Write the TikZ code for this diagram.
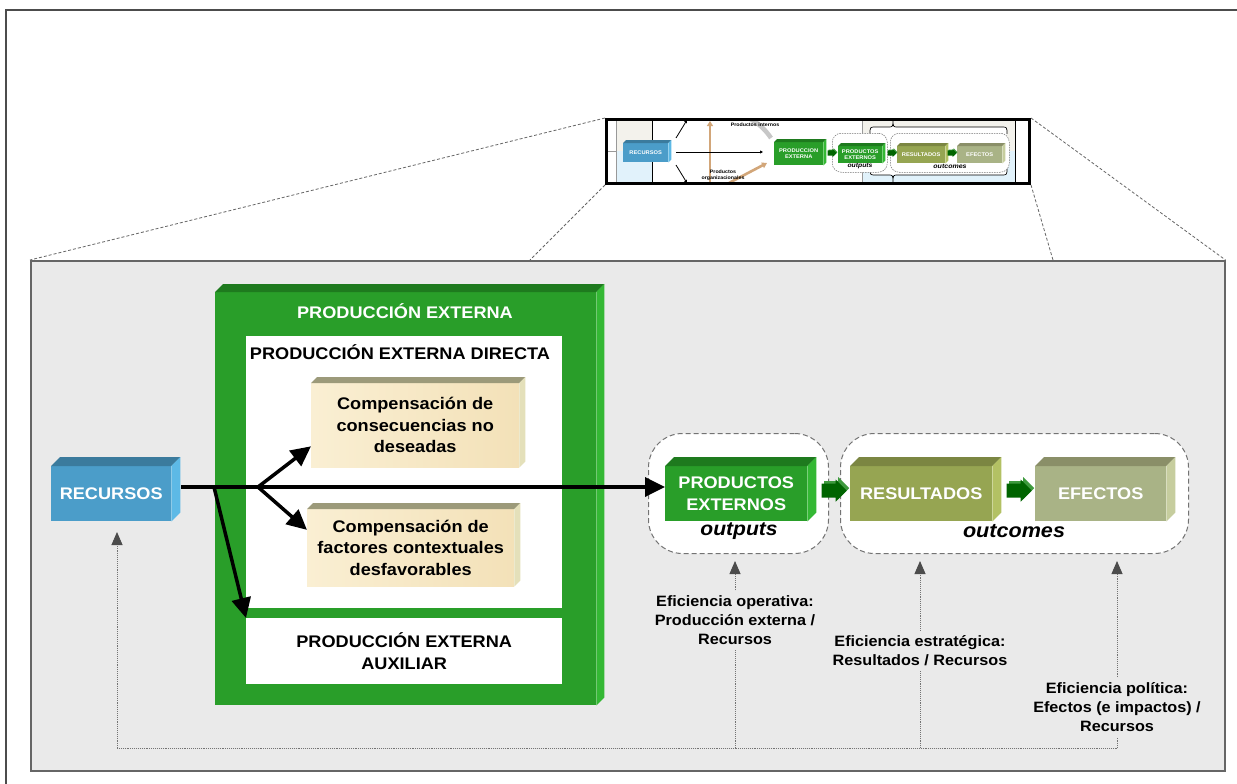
\documentclass[tikz,border=0pt]{standalone}
\usepackage{fontspec}
\setmainfont{Liberation Sans}[FakeStretch=1.08]
\usetikzlibrary{calc,arrows.meta}

\definecolor{panelgray}{HTML}{EAEAEA}
\definecolor{gfront}{HTML}{299E29}
\definecolor{gtop}{HTML}{1E7A1E}
\definecolor{gside}{HTML}{34B834}
\definecolor{bfront}{HTML}{4B9DC9}
\definecolor{btop}{HTML}{3B7B9D}
\definecolor{bside}{HTML}{5DB9E6}
\definecolor{rfront}{HTML}{96A552}
\definecolor{rtop}{HTML}{7B8642}
\definecolor{rside}{HTML}{B3C164}
\definecolor{efront}{HTML}{A9B386}
\definecolor{etop}{HTML}{8A8F68}
\definecolor{eside}{HTML}{C6CD9E}
\definecolor{cfronta}{HTML}{FAEFD3}
\definecolor{cfrontb}{HTML}{F3E1B8}
\definecolor{ctop}{HTML}{9C9A7A}
\definecolor{cside}{HTML}{E4E0BA}
\definecolor{darrow}{HTML}{006400}
\definecolor{larrow}{HTML}{3E9A3E}
\definecolor{tanarrow}{HTML}{D2A679}
\definecolor{mbeige}{HTML}{F3F2EC}
\definecolor{mblue}{HTML}{E1F2FB}

\newcommand{\fs}[2]{\fontsize{#1}{#2}\selectfont}
% top and right face of a box node: node, depth, top colour, side colour
\newcommand{\faces}[4]{%
  \fill[#3] (#1.north west) -- ++(#2,-#2) -- ([shift={(#2,-#2)}]#1.north east) -- (#1.north east) -- cycle;
  \fill[#4] (#1.north east) -- ([shift={(#2,-#2)}]#1.north east) -- ([shift={(#2,-#2)}]#1.south east) -- (#1.south east) -- cycle;}

\begin{document}
\begin{tikzpicture}[x=1pt,y=-1pt,
  block/.style={inner sep=0pt,anchor=north west,align=center,font=\bfseries\fs{16.8}{21.5}},
  mini/.style={inner sep=0pt,anchor=north west,align=center,text=white,font=\bfseries\fs{5.3}{6}},
  bigarrow/.style={line width=3.5pt,-{Triangle[length=20pt,width=19pt]}},
  thinarrow/.style={line width=0.8pt,-{Triangle[length=3pt,width=3pt]}},
  tanline/.style={tanarrow,line width=2.6pt,-{Triangle[length=5pt,width=6pt]}},
  groupbox/.style={draw=black!55,dash pattern=on 5pt off 3pt,line width=1pt,fill=white,rounded corners=34pt,anchor=north west,inner sep=0pt},
  dotline/.style={draw=black!55,densely dotted,line width=0.9pt},
  dotarrow/.style={dotline,-{Triangle[length=13pt,width=11pt,color=black!70]}},
  efflabel/.style={align=center,inner ysep=5pt,font=\bfseries\fs{15}{19}},
  zoomline/.style={draw=black!60,dash pattern=on 3pt off 2pt,line width=0.8pt},
  blockarr/.pic={
    \fill[larrow] (-9.5,-9.5) -- (4.5,-9.5) -- (4.5,-13.5) -- (15.5,-2.5) -- (4.5,8.5) -- (4.5,4.5) -- (-9.5,4.5) -- cycle;
    \fill[darrow] (-12,-7) -- (2,-7) -- (2,-11) -- (13,0) -- (2,11) -- (2,7) -- (-12,7) -- cycle;}
]
\useasboundingbox (0,0) rectangle (1237,784);
\fill[white] (0,0) rectangle (1237,784);
\draw[black!70,line width=1.5pt] (6,784) -- (6,10) -- (1237,10); %outer frame

%%%%%%%%%%%%%%%%%%%%%%%%%%%%%%%%%%%%%%%% thumbnail of the whole scheme
\begin{scope}
\clip (605,118) rectangle (1028,182);
\fill[mbeige] (616,118) rectangle (652,151);
\fill[mblue] (616,151) rectangle (652,182);
\fill[mbeige] (862,118) rectangle (1015,151);
\fill[mblue] (862,151) rectangle (1015,182);
\draw[black!40,line width=0.6pt] (605,151) -- (616,151) (616,118) -- (616,182) (862,118) -- (862,182);
\draw[line width=0.6pt] (652,118) -- (652,182) (1015,118) -- (1015,182);
\fill[white] (870,127) rectangle (1007,175);
\draw[line width=0.7pt] (870,134) .. controls (870,127) .. (876,127) -- (888,127) .. controls (893,127) .. (893,119)
  .. controls (893,127) .. (898,127) -- (1001,127) .. controls (1007,127) .. (1007,134); %top brace
\draw[line width=0.7pt] (870,168) .. controls (870,175) .. (876,175) -- (888,175) .. controls (893,175) .. (893,183)
  .. controls (893,175) .. (898,175) -- (1001,175) .. controls (1007,175) .. (1007,168); %bottom brace

\draw[black!22,line width=4.5pt] (688,119) .. controls (720,106) and (752,110) .. (771,138); %internal products
\draw[tanline] (710,183) -- (710,121);
\draw[tanline] (729,183) -- (767,163);

\node[mini,fill=bfront,minimum width=45,minimum height=19] (mrec) at (623,143) {RECURSOS};
\faces{mrec}{3}{btop}{bside}
\coordinate (mfork) at (676,152);
\coordinate (mhit) at (763,152);
\coordinate (mup) at (687,120);
\coordinate (mdown) at (687,183);
\draw[thinarrow] (mfork) -- (mhit);
\draw[thinarrow] ([yshift=14pt]mfork) -- (mup);
\draw[thinarrow] ([yshift=-13pt]mfork) -- (mdown);
\node[font=\bfseries\fs{4.9}{5.5}] (mint) at (755,125) {Productos internos};
\node[font=\bfseries\fs{4.9}{6},align=center] (morg) at (723,175) {Productos\\organizacionales};

\node[mini,fill=gfront,minimum width=49,minimum height=23] (mprod) at (774,142) {PRODUCCION\\EXTERNA};
\faces{mprod}{3}{gtop}{gside}
\node[groupbox,rounded corners=9pt,line width=0.5pt,dash pattern=on 1.5pt off 1pt,minimum width=55,minimum height=39] (mout) at (832,133) {};
\node[groupbox,rounded corners=9pt,line width=0.5pt,dash pattern=on 1.5pt off 1pt,minimum width=119,minimum height=39] (mouc) at (890,133) {};
\node[mini,fill=gfront,minimum width=44,minimum height=17] (mext) at (838,146) {PRODUCTOS\\EXTERNOS};
\faces{mext}{3}{gtop}{gside}
\node[mini,fill=rfront,minimum width=48,minimum height=17] (mres) at (897,146) {RESULTADOS};
\faces{mres}{3}{rtop}{rside}
\node[mini,fill=efront,minimum width=45,minimum height=17] (mefe) at (957,146) {EFECTOS};
\faces{mefe}{3}{etop}{eside}
\pic[scale=0.36] at (832,153) {blockarr};
\pic[scale=0.36] at (892,153) {blockarr};
\pic[scale=0.36] at (952,153) {blockarr};
\node[font=\bfseries\itshape\fs{6.3}{7}] (mouttxt) at (860,166) {outputs};
\node[font=\bfseries\itshape\fs{6.5}{7}] (mouctxt) at (950,166) {outcomes};
\end{scope}
\node[draw,line width=3pt,minimum width=423,minimum height=64,anchor=north west,inner sep=0pt] (thumb) at (605,118) {};

%%%%%%%%%%%%%%%%%%%%%%%%%%%%%%%%%%%%%%%% enlarged part
\node[draw=black!60,line width=1.5pt,fill=panelgray,minimum width=1194,minimum height=510,anchor=north west,inner sep=0pt] (panel) at (30,260) {};
\coordinate (pl) at (530,260);
\coordinate (pr) at (1053,260);
\draw[zoomline] (thumb.north west) -- (panel.north west);
\draw[zoomline] (thumb.south west) -- (pl);
\draw[zoomline] (thumb.south east) -- (pr);
\draw[zoomline] (thumb.north east) -- (panel.north east);

\node[block,fill=gfront,minimum width=381,minimum height=413] (extbox) at (215,292) {};
\faces{extbox}{8}{gtop}{gside}
\node[text=white,font=\bfseries\fs{16.8}{21.5}] (exttitle) at (405,311) {PRODUCCIÓN EXTERNA};
\node[block,fill=white,minimum width=316,minimum height=272] (direct) at (246,336) {};
\node[font=\bfseries\fs{16.8}{21.5}] (dirtitle) at (400,352) {PRODUCCIÓN EXTERNA DIRECTA};
\node[block,fill=white,minimum width=316,minimum height=66] (aux) at (246,618) {PRODUCCIÓN EXTERNA\\AUXILIAR};

\node[block,left color=cfronta,right color=cfrontb,minimum width=208,minimum height=84] (comp1) at (311,383) {Compensación de\\consecuencias no\\deseadas};
\faces{comp1}{6}{ctop}{cside}
\node[block,left color=cfronta,right color=cfrontb,minimum width=207,minimum height=77] (comp2) at (307,509) {Compensación de\\factores contextuales\\desfavorables};
\faces{comp2}{6}{ctop}{cside}

\node[block,fill=bfront,text=white,minimum width=120,minimum height=55] (rec) at (51,466) {RECURSOS};
\faces{rec}{9}{btop}{bside}

\node[groupbox,minimum width=180,minimum height=120] (outgrp) at (648,433) {};
\node[groupbox,minimum width=348,minimum height=120] (outcgrp) at (840,433) {};
\node[block,fill=gfront,text=white,minimum width=142,minimum height=55] (prod) at (665,466) {PRODUCTOS\\EXTERNOS};
\faces{prod}{9}{gtop}{gside}
\node[block,fill=rfront,text=white,minimum width=142,minimum height=55] (res) at (850,466) {RESULTADOS};
\faces{res}{9}{rtop}{rside}
\node[block,fill=efront,text=white,minimum width=131,minimum height=55] (efe) at (1035,466) {EFECTOS};
\faces{efe}{9}{etop}{eside}
\pic at ($(prod.east)!0.5!(res.west)+(5,-3)$) {blockarr};
\pic at ($(res.east)!0.5!(efe.west)+(5,-3)$) {blockarr};
\node[font=\bfseries\itshape\fs{19.5}{22}] (outtxt) at (739,531) {outputs};
\node[font=\bfseries\itshape\fs{20}{22}] (outctxt) at (1014,531) {outcomes};

% arrows out of the resources
\coordinate (recout) at (181,487);
\coordinate (split) at (214,487);
\coordinate (fork) at (258,487);
\draw[bigarrow] (recout) -- (prod.west |- recout);
\draw[bigarrow] (fork) -- ($(comp1.south west)!0.25!(comp1.north west)$);
\draw[bigarrow] (fork) -- ($(comp2.north west)!0.27!(comp2.south west)$);
\draw[bigarrow] (split) -- (aux.north west);

% efficiency measures
\node[efflabel] (opeff) at (735,620) {Eficiencia operativa:\\Producción externa /\\Recursos};
\node[efflabel] (streff) at (920,651) {Eficiencia estratégica:\\Resultados / Recursos};
\node[efflabel] (poleff) at (1117,707) {Eficiencia política:\\Efectos (e impactos) /\\Recursos};
\coordinate (rb) at (117,748);
\coordinate (ob) at (735,748);
\coordinate (sb) at (920,748);
\coordinate (pb) at (1117,748);
\coordinate (rtip) at (117,532);
\coordinate (otip) at (735,561);
\coordinate (stip) at (920,561);
\coordinate (ptip) at (1117,561);
\draw[dotline] (rb) -- (pb);
\draw[dotarrow] (rb) -- (rtip);
\draw[dotline] (ob) -- (opeff.south);
\draw[dotarrow] (opeff.north) -- (otip);
\draw[dotline] (sb) -- (streff.south);
\draw[dotarrow] (streff.north) -- (stip);
\draw[dotline] (pb) -- (poleff.south);
\draw[dotarrow] (poleff.north) -- (ptip);
\end{tikzpicture}
\end{document}
